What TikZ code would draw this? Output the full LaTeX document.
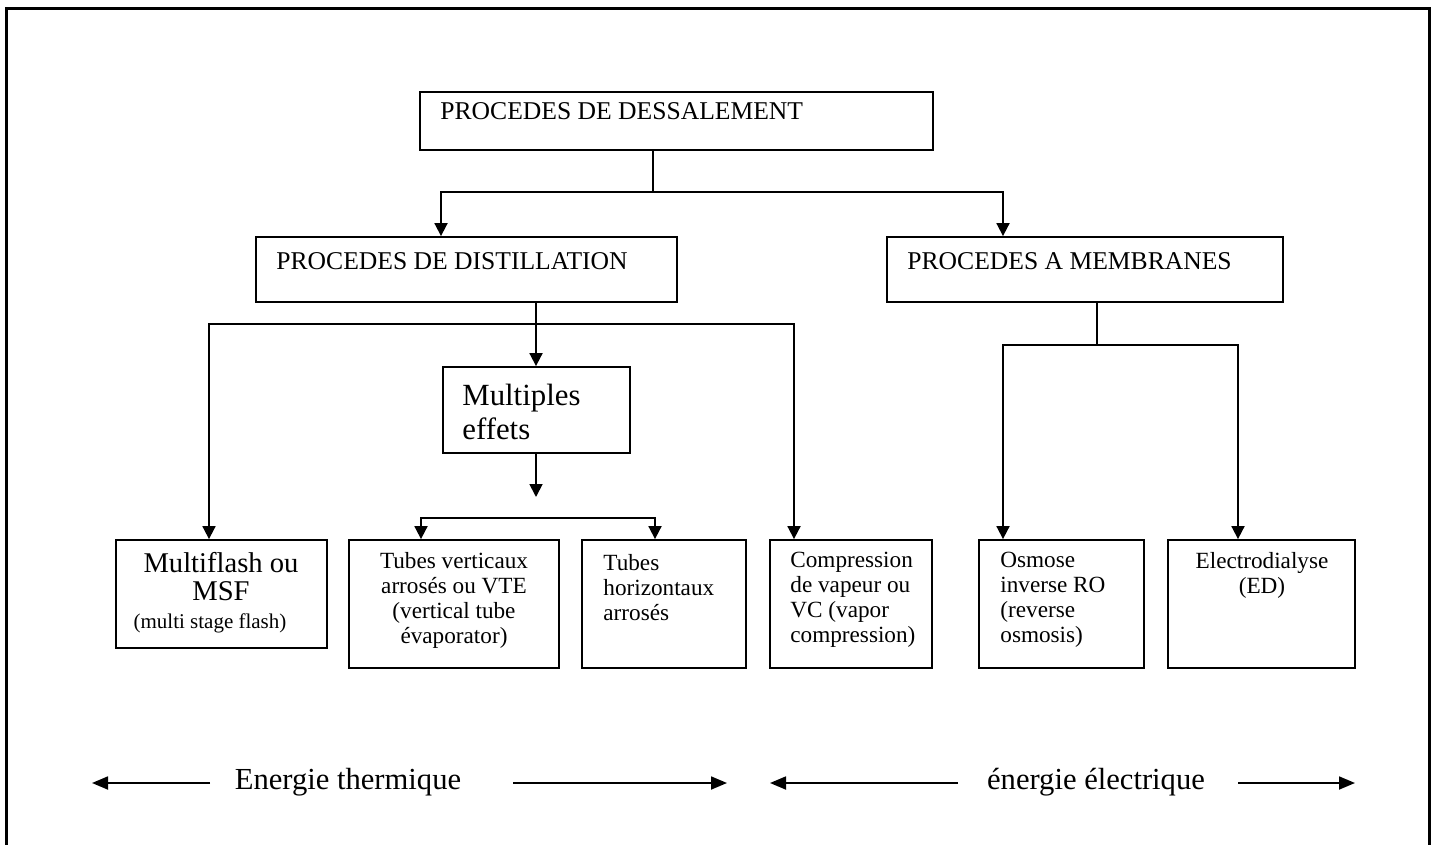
\documentclass[tikz,border=0pt]{standalone}
\usepackage{fontspec}
\setmainfont{Liberation Serif}
\usetikzlibrary{fit,arrows.meta}
\begin{document}
\begin{tikzpicture}[x=0.5pt,y=-0.5pt,
  box/.style={draw, line width=0.9pt, inner sep=0pt},
  wire/.style={line width=0.9pt},
  arr/.style={wire, -{Triangle[length=6.5pt,width=6.5pt]}},
  energy/.style={line width=0.9pt, -{Triangle[length=8pt,width=6.5pt]}},
  head/.style={font=\fontsize{12.8}{15}\selectfont, inner sep=0pt, anchor=base west},
  small/.style={font=\fontsize{11.6}{12.5}\selectfont, inner sep=0pt},
  big/.style={font=\fontsize{15.3}{18}\selectfont, inner sep=0pt, anchor=base},
  ]
\useasboundingbox (0,0) rectangle (1435,845);
% page frame, open at the bottom
\draw[line width=1.5pt] (6.5,845) -- (6.5,8.5) -- (1429,8.5) -- (1429,845);

% boxes
\node[box, fit={(420,92) (933,150)}] (top) {};
\node[box, fit={(256,237) (677,302)}] (dist) {};
\node[box, fit={(887,237) (1283,302)}] (memb) {};
\node[box, fit={(443,367) (630,453)}] (me) {};
\node[box, fit={(116,540) (327,648)}] (msf) {};
\node[box, fit={(349,540) (559,668)}] (vte) {};
\node[box, fit={(582,540) (746,668)}] (th) {};
\node[box, fit={(770,540) (932,668)}] (vc) {};
\node[box, fit={(979,540) (1144,668)}] (ro) {};
\node[box, fit={(1168,540) (1355,668)}] (ed) {};

% box texts
\node[head] (topT) at (440,120) {PROCEDES DE DESSALEMENT};
\node[head] (distT) at (276,270) {PROCEDES DE DISTILLATION};
\node[head] (membT) at (907,270) {PROCEDES A MEMBRANES};
\node[font=\fontsize{15.4}{17}\selectfont, align=left, anchor=west, inner sep=0pt] (meT) at (462,412) {Multiples\\effets};
\node[align=center, inner sep=0pt, font=\fontsize{14.3}{14}\selectfont] (msfT) at (221,593)
  {Multiflash ou\\MSF\\{\fontsize{10.5}{13}\selectfont(multi stage flash)\hspace*{11pt}}};
\node[small, align=center] (vteT) at (454,600) {Tubes verticaux\\arrosés ou VTE\\(vertical tube\\évaporator)};
\node[small, align=left, anchor=west] (thT) at (603,588) {Tubes\\horizontaux\\arrosés};
\node[small, align=left, anchor=west] (vcT) at (790,600) {Compression\\de vapeur ou\\VC (vapor\\compression)};
\node[small, align=left, anchor=west] (roT) at (1000,600) {Osmose\\inverse RO\\(reverse\\osmosis)};
\node[small, align=center] (edT) at (1262,575) {Electrodialyse\\(ED)};

% junction points
\coordinate (t0) at (653,192);
\coordinate (t1) at (441,192);
\coordinate (t2) at (1003,192);
\coordinate (d0) at (536,324);
\coordinate (d1) at (209,324);
\coordinate (d2) at (794,324);
\coordinate (m0) at (1097,345);
\coordinate (m1) at (1003,345);
\coordinate (m2) at (1238,345);
\coordinate (e0) at (536,497);
\coordinate (b1) at (421,518);
\coordinate (b2) at (655,518);

% connectors
\draw[wire] (top.south -| t0) -- (t0);
\draw[arr] (t0) -- (t1) -- (dist.north -| t1);
\draw[arr] (t0) -- (t2) -- (memb.north -| t2);

\draw[arr] (dist.south -| d0) -- (me.north -| d0);
\draw[arr] (d0) -- (d1) -- (msf.north -| d1);
\draw[arr] (d0) -- (d2) -- (vc.north -| d2);

\draw[arr] (me.south -| e0) -- (e0);
\draw[arr] (b2) -- (b1) -- (vte.north -| b1);
\draw[arr] (b1) -- (b2) -- (th.north -| b2);

\draw[wire] (memb.south -| m0) -- (m0);
\draw[arr] (m0) -- (m1) -- (ro.north -| m1);
\draw[arr] (m0) -- (m2) -- (ed.north -| m2);

% energy ranges
\node[big] (eth) at (348,789) {Energie thermique};
\node[big] (eel) at (1096,789) {énergie électrique};
\coordinate (l1) at (210,783);
\coordinate (l2) at (92,783);
\coordinate (l3) at (513,783);
\coordinate (l4) at (727,783);
\coordinate (r1) at (958,783);
\coordinate (r2) at (770,783);
\coordinate (r3) at (1238,783);
\coordinate (r4) at (1355,783);
\draw[energy] (l1) -- (l2);
\draw[energy] (l3) -- (l4);
\draw[energy] (r1) -- (r2);
\draw[energy] (r3) -- (r4);
\end{tikzpicture}
\end{document}
